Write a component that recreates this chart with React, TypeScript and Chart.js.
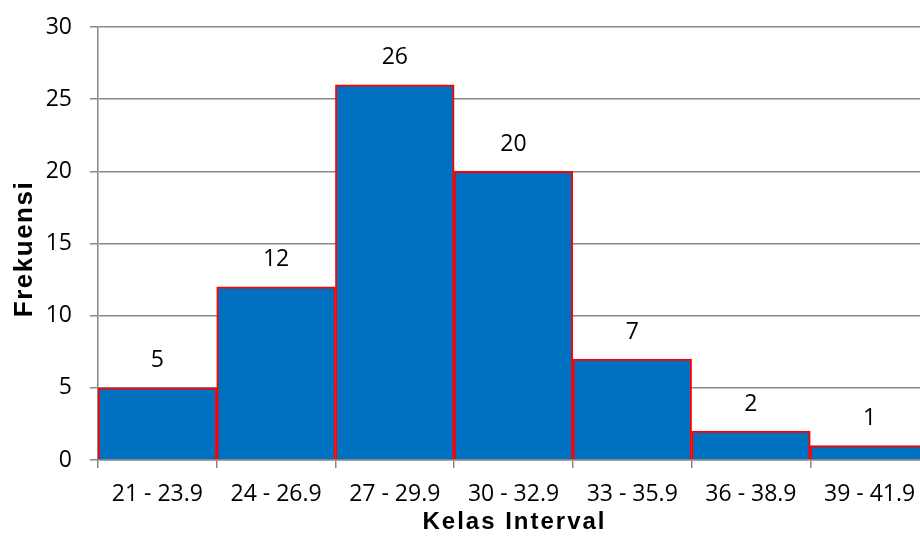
import React, { useEffect, useRef } from "react";
import { Chart, registerables } from "chart.js";
Chart.register(...registerables);

const categories = ["21 - 23.9", "24 - 26.9", "27 - 29.9", "30 - 32.9", "33 - 35.9", "36 - 38.9", "39 - 41.9"];
const frequencies = [5, 12, 26, 20, 7, 2, 1];
const yMin = 0;
const yMax = 30;
const yStep = 5;
const xTitle = "Kelas Interval";
const yTitle = "Frekuensi";

const FONT = "'Open Sans', 'Noto Sans', sans-serif";
const TITLE_FONT = "'Liberation Sans', Arial, sans-serif";

const valueLabels = {
  id: "valueLabels",
  afterDatasetsDraw(chart: any) {
    const ctx = chart.ctx;
    const meta = chart.getDatasetMeta(0);
    ctx.save();
    ctx.fillStyle = "#000";
    ctx.font = `23px ${FONT}`;
    ctx.textAlign = "center";
    ctx.textBaseline = "middle";
    meta.data.forEach((el: any, i: number) => {
      ctx.fillText(String(chart.data.datasets[0].data[i]), el.x, el.y - 27);
    });
    ctx.restore();
  },
};

const axisTitles = {
  id: "axisTitles",
  afterDraw(chart: any) {
    const ctx = chart.ctx;
    const area = chart.chartArea;
    ctx.save();
    ctx.fillStyle = "#000";
    ctx.textAlign = "center";
    ctx.textBaseline = "middle";
    ctx.font = `bold 24px ${TITLE_FONT}`;
    (ctx as any).letterSpacing = "2px";
    ctx.fillText(xTitle, (area.left + area.right) / 2 + 1, 522);
    ctx.font = `bold 26px ${TITLE_FONT}`;
    (ctx as any).letterSpacing = "1.5px";
    ctx.translate(25, 249);
    ctx.rotate(-Math.PI / 2);
    ctx.fillText(yTitle, 0, 0);
    ctx.restore();
  },
};

export default function App() {
  const ref = useRef<HTMLCanvasElement>(null);
  useEffect(() => {
    document.body.style.margin = "0";
    document.documentElement.style.overflow = "hidden";
    const chart = new Chart(ref.current!, {
      type: "bar",
      data: {
        labels: categories,
        datasets: [
          {
            data: frequencies,
            backgroundColor: "#0070C0",
            borderColor: "#FF0000",
            borderWidth: 2,
            barPercentage: 1,
            categoryPercentage: 1,
          },
        ],
      },
      options: {
        responsive: false,
        animation: false,
        devicePixelRatio: 1,
        layout: { padding: { top: 0, right: 6, left: 0, bottom: 0 } },
        plugins: { legend: { display: false }, tooltip: { enabled: false } },
        scales: {
          x: {
            offset: true,
            grid: { display: true, offset: true, drawOnChartArea: false, color: "#888888", lineWidth: 1.5, tickLength: 8 },
            border: { color: "#888888", width: 1.5 },
            ticks: { color: "#000", font: { family: FONT, size: 23 }, padding: 13, maxRotation: 0, autoSkip: false },
            afterFit(scale: any) { scale.height = 85; },
          },
          y: {
            min: yMin,
            max: yMax,
            grid: { color: "#888888", lineWidth: 1.5, tickLength: 8 },
            border: { color: "#888888", width: 1.5 },
            ticks: { stepSize: yStep, color: "#000", font: { family: FONT, size: 23 }, padding: 18 },
            afterFit(scale: any) {
              scale.width = 98;
              scale.paddingTop = 27;
              scale.paddingBottom = 0;
            },
          },
        },
      },
      plugins: [valueLabels, axisTitles],
    });
    return () => chart.destroy();
  }, []);
  return (
    <div style={{ width: 920, height: 545, overflow: "hidden", position: "relative", background: "#fff" }}>
      <canvas ref={ref} width={935} height={545} style={{ width: 935, height: 545, display: "block" }} />
    </div>
  );
}
